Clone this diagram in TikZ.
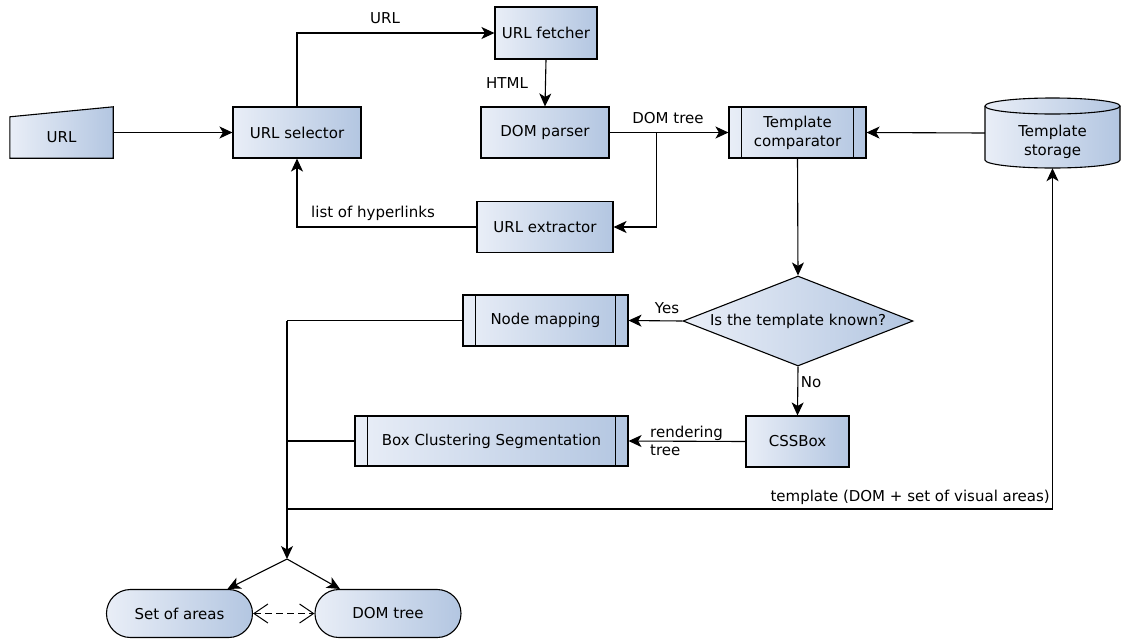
\documentclass[tikz,border=0pt]{standalone}
\usepackage{fontspec}
\setmainfont{DejaVu Sans}
\usetikzlibrary{arrows.meta,shapes.geometric,calc}
\definecolor{cl}{HTML}{E9EEF7}
\definecolor{cr}{HTML}{B3C6E1}
\begin{document}
\begin{tikzpicture}[x=1pt,y=-1pt,
  every node/.style={font=\fontsize{15}{19}\selectfont},
  box/.style={draw, line width=1.1pt, left color=cl, right color=cr, align=center, inner sep=0pt},
  lbl/.style={inner sep=1pt},
  arr/.style={line width=1.1pt, -{Stealth[length=13pt,width=12pt,inset=3.5pt]}},
  ln/.style={line width=1.1pt},
  bars/.style={line width=1.1pt}
]
\useasboundingbox (0,0) rectangle (1124,638);

% URL manual input
\node[minimum width=103pt, minimum height=51pt, inner sep=0pt] (url) at (61.5,132.5) {};
\shade[left color=cl, right color=cr, draw, line width=1.1pt] (url.south west) -- ($(url.north west)+(0,10)$) -- (url.north east) -- (url.south east) -- cycle;
\node at ([yshift=-5pt]url.center) {URL};

% boxes
\node[box, minimum width=128pt, minimum height=51pt] (urlsel) at (297,132.5) {URL selector};
\node[box, minimum width=102pt, minimum height=52pt] (fetch) at (546,33) {URL fetcher};
\node[box, minimum width=128pt, minimum height=51pt] (domp) at (545,132.5) {DOM parser};
\node[box, minimum width=137pt, minimum height=51pt] (comp) at (797.5,132.5) {Template\\comparator};
\node[box, minimum width=136pt, minimum height=51pt] (extr) at (545,227) {URL extractor};
\node[box, minimum width=165pt, minimum height=51pt] (nodemap) at (545.5,320.5) {Node mapping};
\node[box, minimum width=273pt, minimum height=50pt] (bcs) at (491.5,441) {Box Clustering Segmentation};
\node[box, minimum width=103pt, minimum height=51pt] (css) at (797.5,441.5) {CSSBox};
\node[box, diamond, aspect=2.55, minimum width=230pt, minimum height=90pt] (dia) at (798,321) {Is the template known?};
\node[box, rectangle, rounded corners=23.9pt, minimum width=146pt, minimum height=48pt] (setareas) at (179.5,613.5) {Set of areas};
\node[box, rectangle, rounded corners=23.9pt, minimum width=146pt, minimum height=48pt] (domtree) at (388,613.5) {DOM tree};

% predefined process bars
\foreach \n in {comp,nodemap,bcs}{
  \draw[bars] ([xshift=13pt]\n.north west) -- ([xshift=13pt]\n.south west);
  \draw[bars] ([xshift=-13pt]\n.north east) -- ([xshift=-13pt]\n.south east);
}

% storage cylinder
\node[minimum width=135pt, minimum height=70pt, inner sep=0pt] (storage) at (1052.5,133) {};
\shade[left color=cl, right color=cr, draw, line width=1.1pt] (985,106) -- (985,160) arc[start angle=180, end angle=0, x radius=67.5, y radius=8] -- (1120,106) arc[start angle=0, end angle=-180, x radius=67.5, y radius=8] -- cycle;
\draw[line width=1.1pt] (985,106) arc[start angle=180, end angle=0, x radius=67.5, y radius=8];
\node[align=center] at (1052.5,142) {Template\\storage};

% connectors
\draw[arr] (url.east) -- (urlsel.west);
\draw[arr] (urlsel.north) |- (fetch.west);
\node[lbl] at (385,18) {URL};
\draw[arr] (fetch.south) -- (domp.north);
\node[lbl] at (507,83) {HTML};
\draw[arr] (domp.east) -- (comp.west);
\node[lbl] at (668,118) {DOM tree};
\coordinate (br) at (656.5,132.5);
\draw[arr] (br) |- (extr.east);
\draw[arr] (storage.west) -- (comp.east);
\draw[arr] (extr.west) -| (urlsel.south);
\node[lbl] at (373,213) {list of hyperlinks};
\draw[arr] (comp.south) -- (dia.north);
\draw[arr] (dia.west) -- (nodemap.east);
\node[lbl] at (667,308) {Yes};
\draw[arr] (dia.south) -- (css.north);
\node[lbl] at (811,382) {No};
\draw[arr] (css.west) -- (bcs.east);
\node[lbl, anchor=west, align=left, font=\fontsize{15}{18}\selectfont] at (649,441) {rendering\\tree};

\coordinate (t1) at (287,320.5);
\coordinate (j) at (287,559);
\coordinate (tm) at (287,509);
\draw[ln] (nodemap.west) -- (t1);
\draw[arr] (t1) -- (j);
\draw[ln] (bcs.west) -- (bcs.west -| t1);
\draw[arr] (tm) -| (storage.south);
\node[lbl, anchor=east] at (1051,497) {template (DOM + set of visual areas)};

\draw[arr] (j) -- ([xshift=48pt]setareas.north);
\draw[arr] (j) -- ([xshift=-48pt]domtree.north);
\draw[line width=1pt, dash pattern=on 7pt off 4pt, {Straight Barb[length=14pt,width=19pt]}-{Straight Barb[length=14pt,width=19pt]}] (setareas.east) -- (domtree.west);
\end{tikzpicture}
\end{document}
